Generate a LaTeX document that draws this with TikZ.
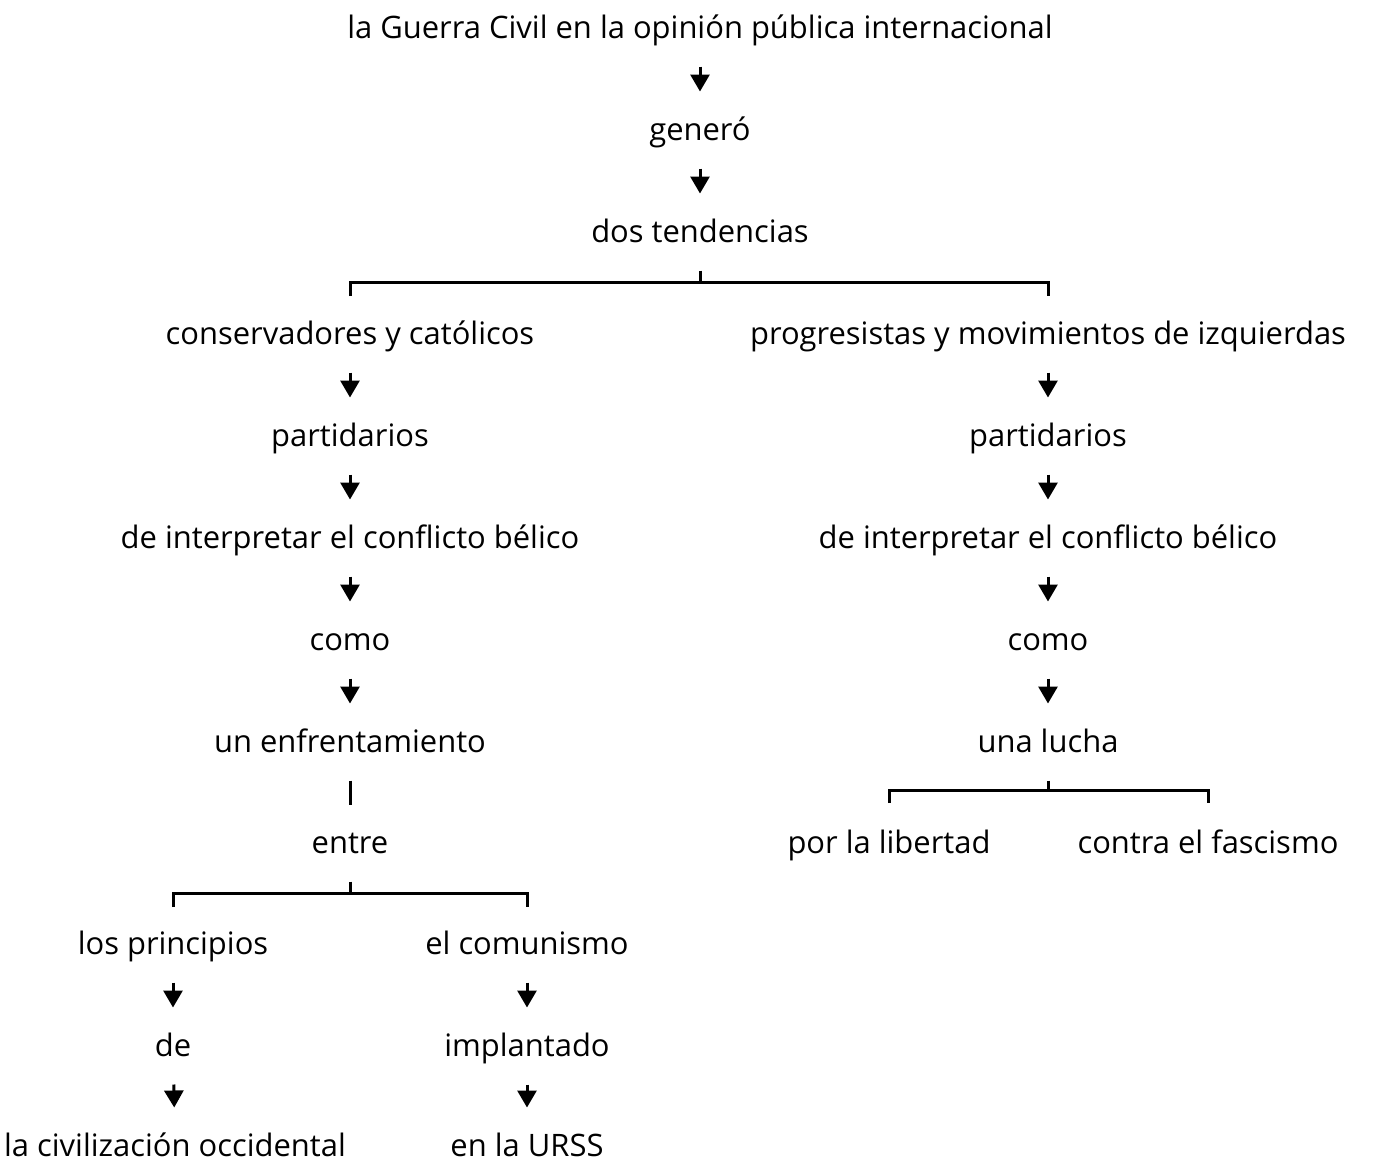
\documentclass[tikz,border=0pt]{standalone}
\usepackage{fontspec}
\setmainfont{Open Sans}
\usetikzlibrary{arrows.meta}

\begin{document}
\begin{tikzpicture}[line width=0.03cm,
    every node/.style={minimum height=0.74cm, inner sep=0pt, text height=0.25cm, text depth=0.04cm,
      font=\fontsize{8.8pt}{10pt}\selectfont},
    arr/.style={-{Triangle[width=0.19cm, length=0.17cm]}}]
      \useasboundingbox (0,0) rectangle (13.76,-11.60);
      \node(1) at (7.00, -0.28) {la Guerra Civil en la opinión pública internacional};
      \node(2) at (7.00, -1.30) {generó};
      \node(3) at (7.00, -2.32) {dos tendencias};
      \node(4) at (3.50, -3.34) {conservadores y católicos};
      \node(5) at (3.50, -4.36) {partidarios};
      \node(6) at (3.50, -5.38) {de interpretar el conflicto bélico};
      \node(7) at (3.50, -6.40) {como};
      \node(8) at (3.50, -7.42) {un enfrentamiento};
      \node(9) at (3.50, -8.43) {entre};
      \node(10) at (10.48, -3.34) {progresistas y movimientos de izquierdas};
      \node(11) at (10.48, -4.36) {partidarios};
      \node(12) at (10.48, -5.38) {de interpretar el conflicto bélico};
      \node(13) at (10.48, -6.40) {como};
      \node(14) at (10.48, -7.42) {una lucha};
      \node(15) at (8.89, -8.43) {por la libertad};
      \node(16) at (12.08, -8.43) {contra el fascismo};
      \node(17) at (1.73, -9.44) {los principios};
      \node(18) at (1.73, -10.46) {de};
      \node(19) at (1.75, -11.46) {la civilización occidental};
      \node(20) at (5.27, -9.44) {el comunismo};
      \node(21) at (5.27, -10.46) {implantado};
      \node(22) at (5.27, -11.46) {en la URSS};
      % branch points
      \coordinate(b3) at (7.00, -2.82);
      \coordinate(b3l) at (3.50, -2.82);
      \coordinate(b3r) at (10.48, -2.82);
      \coordinate(e3l) at (3.50, -2.96);
      \coordinate(e3r) at (10.48, -2.96);
      \coordinate(b9) at (3.50, -8.93);
      \coordinate(b9l) at (1.73, -8.93);
      \coordinate(b9r) at (5.27, -8.93);
      \coordinate(e9l) at (1.73, -9.07);
      \coordinate(e9r) at (5.27, -9.07);
      \coordinate(b14) at (10.48, -7.90);
      \coordinate(b14l) at (8.89, -7.90);
      \coordinate(b14r) at (12.08, -7.90);
      \coordinate(e14l) at (8.89, -8.03);
      \coordinate(e14r) at (12.08, -8.03);
      \draw (1) edge[arr] (2);
      \draw (2) edge[arr] (3);
      \draw (3) -- (b3);
      \draw (e3l) -- (b3l) -- (b3r) -- (e3r);
      \draw (4) edge[arr] (5);
      \draw (5) edge[arr] (6);
      \draw (6) edge[arr] (7);
      \draw (7) edge[arr] (8);
      \draw (8) -- (9);
      \draw (9) -- (b9);
      \draw (e9l) -- (b9l) -- (b9r) -- (e9r);
      \draw (17) edge[arr] (18);
      \draw (18) edge[arr] (19);
      \draw (20) edge[arr] (21);
      \draw (21) edge[arr] (22);
      \draw (10) edge[arr] (11);
      \draw (11) edge[arr] (12);
      \draw (12) edge[arr] (13);
      \draw (13) edge[arr] (14);
      \draw (14) -- (b14);
      \draw (e14l) -- (b14l) -- (b14r) -- (e14r);
    \end{tikzpicture}
\end{document}
